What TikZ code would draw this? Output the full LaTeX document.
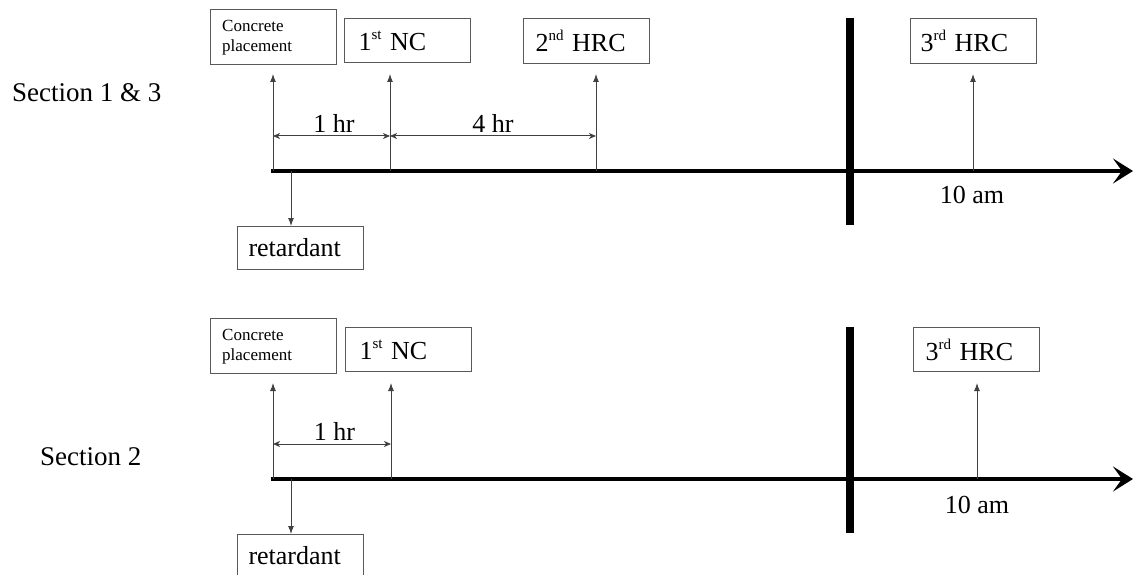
\documentclass[tikz,border=0pt]{standalone}
\usepackage{fontspec}
\setmainfont{Liberation Serif}
\usetikzlibrary{arrows.meta}
\definecolor{boxgray}{gray}{0.35}
\definecolor{linegray}{gray}{0.25}
\newcommand{\supx}[1]{\raisebox{0.42em}{\fontsize{15}{15}\selectfont #1}}
\begin{document}
\begin{tikzpicture}[x=1pt,y=-1pt,
  box/.style={draw=boxgray, line width=1pt, rectangle, anchor=north west,
    inner xsep=12pt, inner ysep=0pt, align=left, text width=102pt,
    font=\fontsize{26}{30}\selectfont},
  emptybox/.style={draw=boxgray, line width=1pt, rectangle, anchor=north west,
    inner sep=0pt, minimum width=126pt, minimum height=55pt},
  smalltext/.style={anchor=north west, inner sep=0pt, align=left,
    font=\fontsize{17}{20}\selectfont},
  uparrow/.style={draw=linegray, line width=1pt, -{Latex[length=8pt,width=6pt]}},
  dimarrow/.style={draw=linegray, line width=1pt, {Stealth[length=7pt,width=6pt,inset=2pt]}-{Stealth[length=7pt,width=6pt,inset=2pt]}},
  timeline/.style={draw=black, line width=4pt, -{Stealth[length=20pt,width=25pt,inset=9pt]}},
  thickbar/.style={draw=black, line width=8pt},
  lbl/.style={font=\fontsize{26}{30}\selectfont, inner sep=0pt},
  seclbl/.style={font=\fontsize{27}{32}\selectfont, inner sep=0pt, anchor=base west}
]
\useasboundingbox (0,0) rectangle (1133,575);
\clip (0,0) rectangle (1133,575);

% ---------------- Section 1 & 3 ----------------
\node[seclbl] (sec1) at (12,102) {Section 1 \& 3};

\node[emptybox] (cp1) at (210,9) {};
\node[smalltext] (cp1txt) at (222,20) {Concrete\\placement};
\node[box, minimum height=44pt, inner xsep=14pt, text width=98pt] (nc1) at (344,18) {1\supx{st} NC};
\node[box, minimum height=45pt] (hrc2) at (523,18) {2\supx{nd} HRC};
\node[box, minimum height=45pt, inner xsep=10pt, text width=106pt] (hrc3a) at (910,18) {3\supx{rd} HRC};
\node[box, minimum height=43pt, inner xsep=11pt, text width=104pt] (ret1) at (237,226) {retardant};

\coordinate (t1s) at (271,171);
\coordinate (t1e) at (1133,171);
\draw[timeline] (t1s) -- (t1e);

\coordinate (bar1t) at (850,18);
\coordinate (bar1b) at (850,225);
\draw[thickbar] (bar1t) -- (bar1b);

\coordinate (u1b) at (273,171); \coordinate (u1t) at (273,74);
\coordinate (u2b) at (390,171); \coordinate (u2t) at (390,74);
\coordinate (u3b) at (596,171); \coordinate (u3t) at (596,74);
\coordinate (u4b) at (973,171); \coordinate (u4t) at (973,74);
\draw[uparrow] (u1b) -- (u1t);
\draw[uparrow] (u2b) -- (u2t);
\draw[uparrow] (u3b) -- (u3t);
\draw[uparrow] (u4b) -- (u4t);

\coordinate (r1t) at (291,171);
\draw[uparrow] (r1t) -- (ret1.north -| r1t);

\coordinate (d1a) at (273,136); \coordinate (d1b) at (390,136);
\coordinate (d2a) at (390,136); \coordinate (d2b) at (596,136);
\draw[dimarrow] (d1a) -- (d1b);
\draw[dimarrow] (d2a) -- (d2b);
\path (d1a) -- node[lbl, anchor=south, inner sep=3pt, pos=0.52] (hr1) {1 hr} (d1b);
\path (d2a) -- node[lbl, anchor=south, inner sep=3pt] (hr4) {4 hr} (d2b);

\node[lbl] (am1) at (972,195) {10 am};

% ---------------- Section 2 ----------------
\node[seclbl] (sec2) at (40,465) {Section 2};

\node[emptybox] (cp2) at (210,318) {};
\node[smalltext] (cp2txt) at (222,329) {Concrete\\placement};
\node[box, minimum height=44pt, inner xsep=14pt, text width=98pt] (nc2) at (345,327) {1\supx{st} NC};
\node[box, minimum height=44pt] (hrc3b) at (913,327) {3\supx{rd} HRC};
\node[box, minimum height=43pt, inner xsep=11pt, text width=104pt] (ret2) at (237,534) {retardant};

\coordinate (t2s) at (271,479);
\coordinate (t2e) at (1133,479);
\draw[timeline] (t2s) -- (t2e);

\coordinate (bar2t) at (850,327);
\coordinate (bar2b) at (850,533);
\draw[thickbar] (bar2t) -- (bar2b);

\coordinate (v1b) at (273,479); \coordinate (v1t) at (273,383);
\coordinate (v2b) at (391,479); \coordinate (v2t) at (391,383);
\coordinate (v3b) at (977,479); \coordinate (v3t) at (977,383);
\draw[uparrow] (v1b) -- (v1t);
\draw[uparrow] (v2b) -- (v2t);
\draw[uparrow] (v3b) -- (v3t);

\coordinate (r2t) at (291,479);
\draw[uparrow] (r2t) -- (ret2.north -| r2t);

\coordinate (e1a) at (273,444); \coordinate (e1b) at (391,444);
\draw[dimarrow] (e1a) -- (e1b);
\path (e1a) -- node[lbl, anchor=south, inner sep=3pt, pos=0.52] (hr1b) {1 hr} (e1b);

\node[lbl] (am2) at (977,505) {10 am};
\end{tikzpicture}
\end{document}
